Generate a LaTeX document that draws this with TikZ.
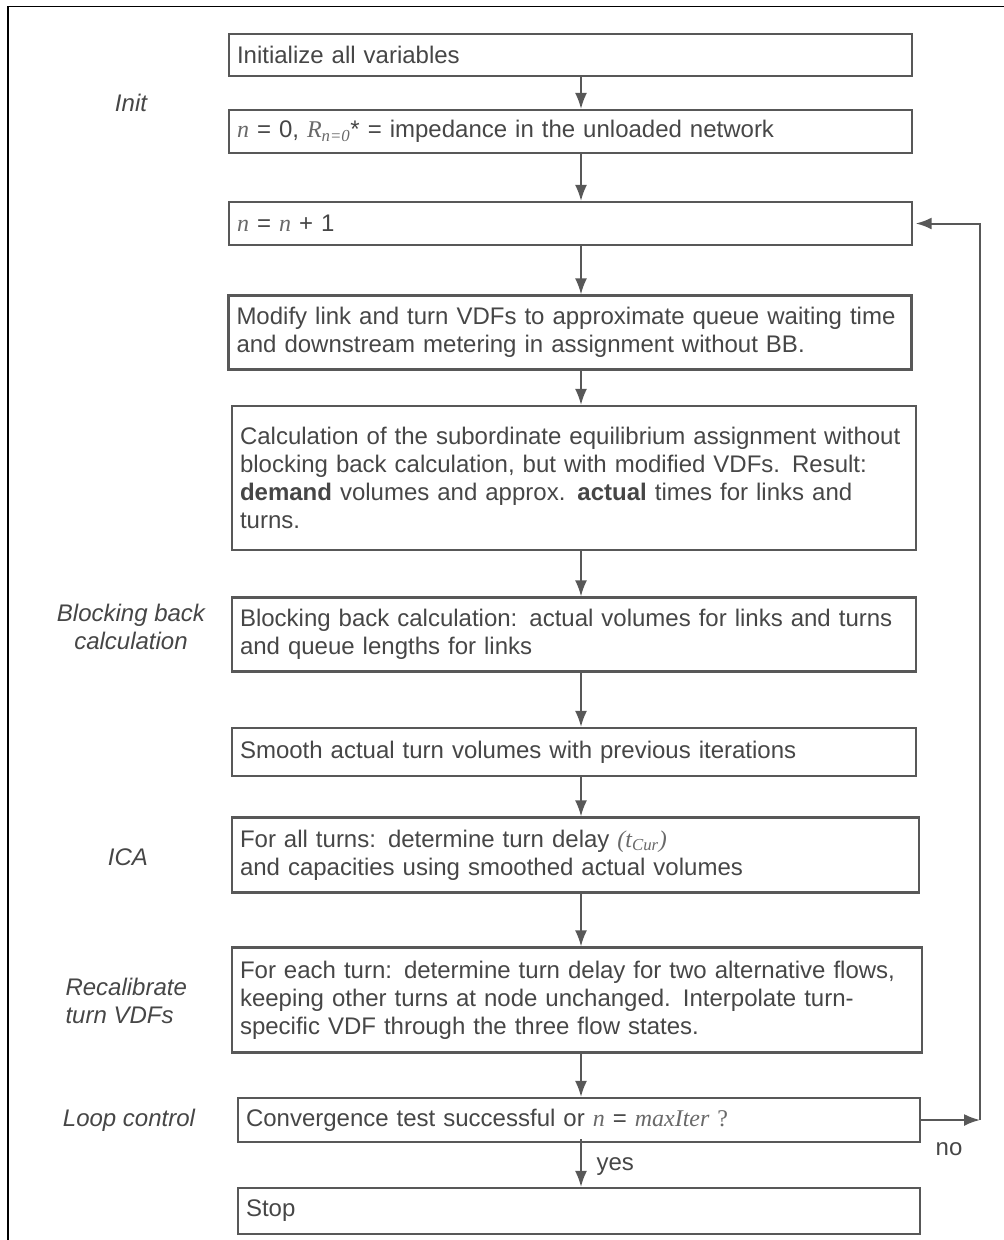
\documentclass[tikz,border=0pt]{standalone}
\usepackage{fontspec}
\setmainfont{Liberation Sans}
\newfontfamily\mathserif{Liberation Serif}
\usetikzlibrary{arrows.meta}

\definecolor{inkgray}{RGB}{70,70,70}
\definecolor{linegray}{RGB}{88,88,88}
\definecolor{mathgray}{RGB}{105,105,105}
\newcommand{\mv}[1]{{\mathserif\itshape\color{mathgray}#1}}

\tikzset{every picture/.style={line width=0.75pt}}
\tikzset{
  procbox/.style={draw=linegray, line width=1.6pt, rectangle, align=left,
    inner xsep=6pt, inner ysep=0pt, text=inkgray,
    font=\fontsize{18}{21}\selectfont},
  phase/.style={text=inkgray, align=center, inner sep=0.75pt,
    font=\fontsize{18}{21}\selectfont\itshape},
  flow/.style={draw=linegray, line width=1.5pt,
    -{Latex[length=12pt,width=9pt]}},
}

\begin{document}
\begin{tikzpicture}[x=0.75pt,y=0.75pt,yscale=-1,xscale=1]
    \useasboundingbox (0,0) rectangle (1004,1240);

    %Frame
    \draw [line width=1.3pt] (8,1240) -- (8,6.5) -- (1004,6.5) ;

    % Process boxes
    \node [procbox, text width=500.25pt, minimum height=31.5pt] (init) at (570.5,55) {Initialize all variables};
    \node [procbox, text width=500.25pt, minimum height=32.25pt] (zero) at (570.5,131.5) {\mv{n} = 0, \mv{R}\textsubscript{\mv{n=0}}* = impedance in the unloaded network};
    \node [procbox, text width=500.25pt, minimum height=32.25pt] (incr) at (570.5,223.5) {\mv{n} = \mv{n} + 1};
    \node [procbox, text width=500.25pt, minimum height=55.5pt] (modify) at (570,332.5) {Modify link and turn VDFs to approximate queue waiting time\\and downstream metering in assignment without BB.};
    \node [procbox, text width=501pt, minimum height=108pt] (calc) at (574,478) {Calculation of the subordinate equilibrium assignment without\\blocking back calculation, but with modified VDFs. Result:\\\textbf{demand} volumes and approx. \textbf{actual} times for links and\\turns.};
    \node [procbox, text width=501pt, minimum height=55.5pt] (block) at (574,634.5) {Blocking back calculation: actual volumes for links and turns\\and queue lengths for links};
    \node [procbox, text width=501pt, minimum height=36pt] (smooth) at (574,752) {Smooth actual turn volumes with previous iterations};
    \node [procbox, text width=503.25pt, minimum height=56.25pt] (ica) at (575.5,855) {For all turns: determine turn delay \mv{(t}\textsubscript{\mv{Cur}}\mv{)}\\and capacities using smoothed actual volumes};
    \node [procbox, text width=505.5pt, minimum height=78.75pt] (recal) at (577,1000) {For each turn: determine turn delay for two alternative flows,\\keeping other turns at node unchanged. Interpolate turn-\\specific VDF through the three flow states.};
    \node [procbox, text width=499.5pt, minimum height=33pt] (loop) at (579,1120) {Convergence test successful or \mv{n} = \mv{maxIter} {\mathserif\color{mathgray}?}};
    \node [procbox, text width=499.5pt, minimum height=34.5pt] (stop) at (579,1211) {Stop};

    % Phase labels
    \node [phase] (lblinit) at (131,103) {Init};
    \node [phase] (lblblock) at (131,627) {Blocking back\\calculation};
    \node [phase] (lblica) at (128,857) {ICA};
    \node [phase, anchor=west, align=left] (lblrecal) at (64,1001) {Recalibrate\\turn VDFs};
    \node [phase] (lblloop) at (129,1120) {Loop control};

    % Main flow
    \coordinate (axis) at (581,0);
    \draw [flow] (init.south -| axis) -- (zero.north -| axis) ;
    \draw [flow] (zero.south -| axis) -- (incr.north -| axis) ;
    \draw [flow] (incr.south -| axis) -- (modify.north -| axis) ;
    \draw [flow] (modify.south -| axis) -- (calc.north -| axis) ;
    \draw [flow] (calc.south -| axis) -- (block.north -| axis) ;
    \draw [flow] (block.south -| axis) -- (smooth.north -| axis) ;
    \draw [flow] (smooth.south -| axis) -- (ica.north -| axis) ;
    \draw [flow] (ica.south -| axis) -- (recal.north -| axis) ;
    \draw [flow] (recal.south -| axis) -- (loop.north -| axis) ;
    \draw [flow] ([yshift=-3pt]loop.south -| axis) -- (stop.north -| axis) ;

    % Loop back
    \coordinate (back) at (980,1120);
    \draw [flow] (loop.east) -- (back) ;
    \draw [flow, shorten >=2pt] (back) |- (incr.east) ;

    % Text Node
    \node [anchor=base west, text=inkgray, inner sep=0pt, font=\fontsize{18}{21}\selectfont] (yes) at (596,1170) {yes};
    \node [anchor=base, text=inkgray, inner sep=0pt, font=\fontsize{18}{21}\selectfont] (no) at (949,1155) {no};

\end{tikzpicture}
\end{document}
